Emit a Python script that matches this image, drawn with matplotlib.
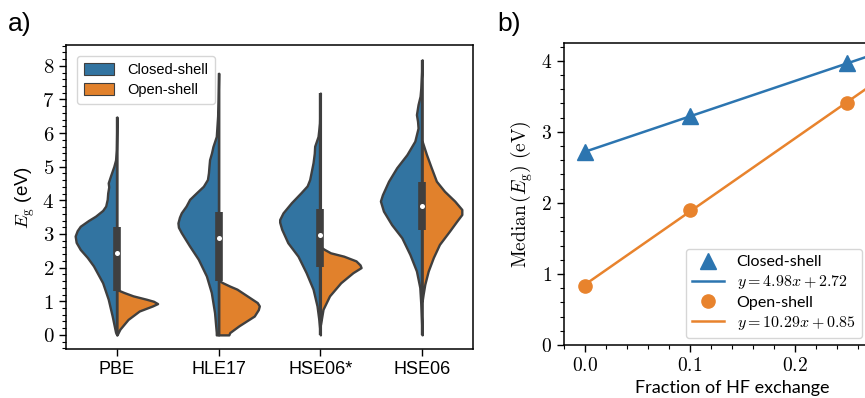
import numpy as np
import matplotlib.pyplot as plt
from matplotlib.patches import Patch
from matplotlib.lines import Line2D
from matplotlib.ticker import MultipleLocator, FixedLocator, FuncFormatter

plt.rcParams['mathtext.fontset'] = 'cm'
plt.rcParams['font.family'] = ['Liberation Sans', 'DejaVu Sans']

# ---- panel a: violin outlines (energy, half width) ----
methods = ['PBE', 'HLE17', 'HSE06*', 'HSE06']

pbe_closed_y = [0.0, 0.08, 0.56, 1.06, 1.55, 2.05, 2.3, 2.54, 2.75, 2.94, 3.1, 3.23, 3.4, 3.53, 3.7,
                3.83, 4.03, 4.22, 4.4, 4.52, 4.75, 5.01, 5.2, 5.5, 6.0, 6.48]
pbe_closed_w = [0.0, 0.013, 0.046, 0.085, 0.14, 0.23, 0.29, 0.36, 0.40, 0.41, 0.39, 0.36, 0.28, 0.21, 0.14,
                0.11, 0.095, 0.09, 0.08, 0.085, 0.06, 0.03, 0.013, 0.005, 0.002, 0.0]
pbe_open_y = [0.0, 0.02, 0.17, 0.46, 0.71, 0.86, 0.93, 1.0, 1.06, 1.16, 1.26, 1.31, 1.36]
pbe_open_w = [0.0, 0.005, 0.03, 0.11, 0.22, 0.35, 0.40, 0.36, 0.29, 0.16, 0.07, 0.03, 0.0]

hle_closed_y = [0.0, 0.07, 0.66, 1.26, 1.75, 2.25, 2.64, 3.04, 3.2, 3.33, 3.5, 3.63, 3.83, 4.03, 4.22,
                4.42, 4.62, 4.82, 5.01, 5.21, 5.41, 5.6, 5.9, 6.5, 7.0, 7.78]
hle_closed_w = [0.023, 0.023, 0.04, 0.072, 0.12, 0.2, 0.285, 0.367, 0.395, 0.40, 0.385, 0.367, 0.32, 0.285, 0.22,
                0.15, 0.11, 0.1, 0.095, 0.089, 0.07, 0.056, 0.023, 0.01, 0.005, 0.0]
hle_open_y = [0.0, 0.07, 0.27, 0.56, 0.75, 0.86, 0.96, 1.06, 1.2, 1.36, 1.45, 1.55, 1.62]
hle_open_w = [0.10, 0.11, 0.2, 0.35, 0.39, 0.40, 0.38, 0.33, 0.26, 0.18, 0.11, 0.04, 0.0]

hses_closed_y = [0.0, 0.47, 0.86, 1.36, 1.85, 2.34, 2.74, 3.14, 3.35, 3.43, 3.63, 3.93, 4.23, 4.43,
                 4.62, 5.12, 5.4, 5.61, 5.9, 6.3, 7.19]
hses_closed_w = [0.0, 0.016, 0.033, 0.072, 0.14, 0.22, 0.32, 0.38, 0.40, 0.40, 0.367, 0.285, 0.19, 0.13,
                 0.105, 0.072, 0.06, 0.056, 0.023, 0.008, 0.0]
hses_open_y = [0.3, 0.47, 0.76, 1.16, 1.55, 1.85, 2.0, 2.08, 2.2, 2.34, 2.44, 2.54, 2.62]
hses_open_w = [0.0, 0.01, 0.026, 0.09, 0.2, 0.32, 0.40, 0.39, 0.35, 0.23, 0.10, 0.04, 0.0]

hse_closed_y = [0.0, 0.91, 1.41, 1.9, 2.39, 2.89, 3.28, 3.68, 3.98, 4.17, 4.57, 4.97, 5.36, 5.76,
                6.15, 6.35, 6.55, 6.85, 7.1, 7.34, 7.8, 8.18]
hse_closed_w = [0.0, 0.013, 0.023, 0.056, 0.12, 0.2, 0.30, 0.38, 0.41, 0.39, 0.33, 0.25, 0.15, 0.072,
                0.04, 0.045, 0.056, 0.04, 0.02, 0.013, 0.005, 0.0]
hse_open_y = [1.0, 1.21, 1.5, 1.9, 2.3, 2.69, 3.09, 3.38, 3.58, 3.73, 3.98, 4.27, 4.57, 4.97, 5.36, 5.76]
hse_open_w = [0.0, 0.01, 0.026, 0.06, 0.11, 0.17, 0.27, 0.34, 0.39, 0.39, 0.32, 0.22, 0.14, 0.09, 0.043, 0.0]

box_lo = [1.29, 1.60, 2.03, 3.11]
box_hi = [3.21, 3.65, 3.75, 4.54]
medians = [2.44, 2.88, 2.98, 3.83]
whisk_lo = [0.0, 0.0, 0.0, 0.0]
whisk_hi = [6.48, 7.78, 7.19, 8.18]

# ---- panel b: medians vs fraction of HF exchange ----
hf_frac = [0.0, 0.1, 0.25]
closed_median = [2.72, 3.22, 3.97]
open_median = [0.83, 1.90, 3.41]
closed_fit = (4.98, 2.72)
open_fit = (10.29, 0.85)
fit_range = [0.0, 0.3]
b_ticks = [0.0, 0.1, 0.2]

blue = '#3274a1'
orange = '#e1812c'
edge = '#3f3f3f'
blue_b = '#2c75b0'
orange_b = '#e8832d'

fig = plt.figure(figsize=(8.65, 3.98), dpi=100)

# panel a
ax1 = fig.add_axes([66/865, 49/398, 407/865, 304/398])
closed = [(pbe_closed_y, pbe_closed_w), (hle_closed_y, hle_closed_w),
          (hses_closed_y, hses_closed_w), (hse_closed_y, hse_closed_w)]
opened = [(pbe_open_y, pbe_open_w), (hle_open_y, hle_open_w),
          (hses_open_y, hses_open_w), (hse_open_y, hse_open_w)]
for i in range(len(methods)):
    cy, cw = np.array(closed[i][0]), np.array(closed[i][1])
    oy, ow = np.array(opened[i][0]), np.array(opened[i][1])
    ax1.fill_betweenx(cy, i - cw, i, facecolor=blue, edgecolor=edge, lw=1.7, zorder=2)
    ax1.fill_betweenx(oy, i, i + ow, facecolor=orange, edgecolor=edge, lw=1.7, zorder=2)
    ax1.plot([i, i], [whisk_lo[i], whisk_hi[i]], color=edge, lw=1.7, zorder=3, solid_capstyle='butt')
    ax1.plot([i, i], [box_lo[i], box_hi[i]], color=edge, lw=5.5, zorder=4, solid_capstyle='butt')
    ax1.scatter([i], [medians[i]], s=13, color='white', zorder=5, lw=0)

ax1.set_xlim(-0.5, 3.5)
ax1.set_ylim(-0.42, 8.62)
ax1.set_xticks(range(len(methods)))
ax1.set_xticklabels(methods, fontsize=13)
ax1.yaxis.set_major_locator(MultipleLocator(1))
ax1.yaxis.set_minor_locator(MultipleLocator(0.2))
ax1.yaxis.set_major_formatter(FuncFormatter(lambda v, p: '$%d$' % round(v)))
ax1.tick_params(axis='y', labelsize=15)
ax1.tick_params(which='major', length=5, width=1)
ax1.tick_params(which='minor', length=3, width=0.8)
ax1.set_ylabel(r'$E_{\rm g}$ (eV)', fontsize=13.5)
for s in ax1.spines.values():
    s.set_linewidth(1.1)
leg1 = ax1.legend(handles=[Patch(facecolor=blue, edgecolor=edge, lw=0.8, label='Closed-shell'),
                           Patch(facecolor=orange, edgecolor=edge, lw=0.8, label='Open-shell')],
                  loc='upper left', fontsize=10.5, handlelength=2.1, handleheight=0.9,
                  borderpad=0.45, labelspacing=0.45, handletextpad=0.9, borderaxespad=0.75)

# panel b, runs past the right edge like the original crop
ax2 = fig.add_axes([564/865, 53/398, 336/865, 302/398])
fx = np.array(fit_range)
ax2.plot(fx, closed_fit[0] * fx + closed_fit[1], color=blue_b, lw=1.8, zorder=2)
ax2.plot(fx, open_fit[0] * fx + open_fit[1], color=orange_b, lw=1.8, zorder=2)
ax2.plot(hf_frac, closed_median, '^', color=blue_b, ms=11, zorder=3)
ax2.plot(hf_frac, open_median, 'o', color=orange_b, ms=9.5, zorder=3)
ax2.set_xlim(-0.02, 0.30)
ax2.set_ylim(0, 4.25)
ax2.xaxis.set_major_locator(FixedLocator(b_ticks))
ax2.xaxis.set_minor_locator(MultipleLocator(0.02))
ax2.yaxis.set_major_locator(MultipleLocator(1))
ax2.yaxis.set_minor_locator(MultipleLocator(0.2))
ax2.xaxis.set_major_formatter(FuncFormatter(lambda v, p: '$%.1f$' % v))
ax2.yaxis.set_major_formatter(FuncFormatter(lambda v, p: '$%d$' % round(v)))
ax2.tick_params(labelsize=14)
ax2.tick_params(which='major', length=5, width=1)
ax2.tick_params(which='minor', length=3, width=0.8)
ax2.set_xlabel('Fraction of HF exchange', fontsize=13, family='Lato')
ax2.set_ylabel(r'$\mathrm{Median}\,(E_\mathrm{g})\ \mathrm{(eV)}$', fontsize=14)
for s in ax2.spines.values():
    s.set_linewidth(1.1)
handles = [Line2D([], [], ls='none', marker='^', ms=11, color=blue_b),
           Line2D([], [], color=blue_b, lw=1.8),
           Line2D([], [], ls='none', marker='o', ms=9.5, color=orange_b),
           Line2D([], [], color=orange_b, lw=1.8)]
labels = ['Closed-shell', r'$y = %.2fx + %.2f$' % closed_fit,
          'Open-shell', r'$y = %.2fx + %.2f$' % open_fit]
leg2 = ax2.legend(handles, labels, loc='lower right', bbox_to_anchor=(862/865, 60/398),
                  bbox_transform=fig.transFigure, prop={'family': 'Lato', 'size': 11.5},
                  labelspacing=0.25, borderpad=0.4, handlelength=2.0, handletextpad=0.8,
                  borderaxespad=0)

fig.text(8/865, 1 - 31/398, 'a)', fontsize=19, va='baseline')
fig.text(497/865, 1 - 31/398, 'b)', fontsize=19, va='baseline')

fig.savefig('out.png', dpi=100)
